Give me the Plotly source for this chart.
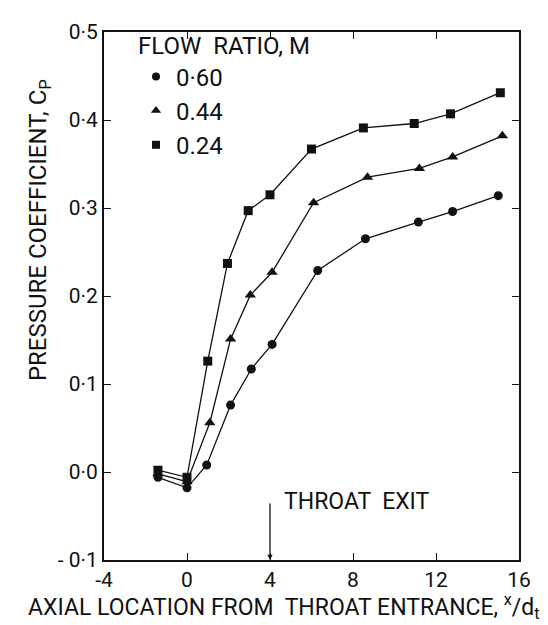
import plotly.graph_objects as go

# ---- data ----
x_060 = [-1.4, 0.0, 0.95, 2.1, 3.1, 4.1, 6.3, 8.6, 11.15, 12.8, 15.0]
cp_060 = [-0.006, -0.018, 0.008, 0.076, 0.117, 0.145, 0.229, 0.265, 0.284, 0.296, 0.314]

x_044 = [-1.4, 0.0, 1.1, 2.1, 3.05, 4.1, 6.1, 8.7, 11.2, 12.8, 15.2]
cp_044 = [-0.002, -0.011, 0.056, 0.151, 0.201, 0.227, 0.306, 0.335, 0.345, 0.358, 0.382]

x_024 = [-1.4, 0.0, 1.0, 1.95, 2.95, 4.0, 6.0, 8.5, 10.95, 12.7, 15.1]
cp_024 = [0.002, -0.006, 0.126, 0.237, 0.297, 0.315, 0.367, 0.391, 0.396, 0.407, 0.431]

series_names = ["0·60", "0.44", "0.24"]
series_symbols = ["circle", "triangle-up", "square"]

x_ticks = [-4, 0, 4, 8, 12, 16]
x_ticklabels = ["-4", "0", "4", "8", "12", "16"]
y_ticks = [-0.1, 0.0, 0.1, 0.2, 0.3, 0.4, 0.5]
y_ticklabels = ["- 0·1", "0·0", "0·1", "0·2", "0·3", "0·4", "0·5"]

throat_exit_x = 4

FONT = "Roboto"
BLACK = "#111111"
W, H = 548, 625
ML, MR, MT, MB = 96, 37, 19, 73
PL, PR, PT, PB = ML, W - MR, MT, H - MB


def px_x(px):
    return (px - PL) / (PR - PL)


def px_y(py):
    return (PB - py) / (PB - PT)


fig = go.Figure()
data = [(x_060, cp_060), (x_044, cp_044), (x_024, cp_024)]
sizes = [9, 10, 9]
for i, ((xs, ys), sym) in enumerate(zip(data, series_symbols)):
    fig.add_trace(go.Scatter(
        x=xs, y=ys, mode="lines+markers", showlegend=False,
        line=dict(color=BLACK, width=1.3),
        marker=dict(symbol=sym, size=sizes[i], color=BLACK),
    ))
for i, (name, sym) in enumerate(zip(series_names, series_symbols)):
    fig.add_trace(go.Scatter(
        x=[None], y=[None], mode="markers", name=name, legendgroup=name,
        marker=dict(symbol=sym, size=[8, 9, 8][i], color=BLACK),
    ))

fig.update_layout(
    width=W, height=H,
    margin=dict(l=ML, r=MR, t=MT, b=MB),
    plot_bgcolor="white", paper_bgcolor="white",
    font=dict(family=FONT, size=20, color=BLACK),
    showlegend=True,
    legend=dict(
        x=px_x(128), y=px_y(10), xanchor="left", yanchor="top",
        bgcolor="rgba(0,0,0,0)", borderwidth=0,
        font=dict(family=FONT, size=24, color=BLACK),
        title=dict(text="FLOW  RATIO, M", font=dict(family=FONT, size=24, color=BLACK)),
        tracegroupgap=0,
    ),
)
fig.update_xaxes(
    range=[-4, 16], tickvals=x_ticks, ticktext=x_ticklabels,
    showgrid=False, zeroline=False, showline=True, linewidth=2, linecolor=BLACK,
    mirror="ticks", ticks="inside", ticklen=7, tickwidth=1.2, tickcolor=BLACK,
    tickfont=dict(family=FONT, size=21, color=BLACK),
)
fig.update_yaxes(
    range=[-0.1, 0.5], tickvals=y_ticks, ticktext=y_ticklabels,
    showgrid=False, zeroline=False, showline=True, linewidth=2, linecolor=BLACK,
    mirror="ticks", ticks="inside", ticklen=7, tickwidth=1.2, tickcolor=BLACK,
    tickfont=dict(family=FONT, size=21, color=BLACK),
)

# throat exit marker
fig.add_annotation(
    x=throat_exit_x, y=-0.1, ax=throat_exit_x, ay=-0.034,
    xref="x", yref="y", axref="x", ayref="y",
    showarrow=True, arrowhead=2, arrowsize=0.8, arrowwidth=1.3, arrowcolor=BLACK,
    text="",
)
fig.add_annotation(
    x=4.6, y=-0.033, xref="x", yref="y", text="THROAT  EXIT",
    showarrow=False, xanchor="left", yanchor="middle",
    font=dict(family=FONT, size=23, color=BLACK),
)

# axis titles
fig.add_annotation(
    x=px_x(31), y=px_y(219), xref="paper", yref="paper",
    text="PRESSURE COEFFICIENT, C<sub>P</sub>",
    showarrow=False, textangle=-90, xanchor="center", yanchor="middle",
    font=dict(family=FONT, size=24, color=BLACK),
)
fig.add_annotation(
    x=px_x(276), y=px_y(599), xref="paper", yref="paper",
    text="AXIAL LOCATION FROM  THROAT ENTRANCE, <sup>x</sup>/d<sub>t</sub>",
    showarrow=False, xanchor="center", yanchor="middle",
    font=dict(family=FONT, size=23, color=BLACK),
)

fig.write_html("out.html")
